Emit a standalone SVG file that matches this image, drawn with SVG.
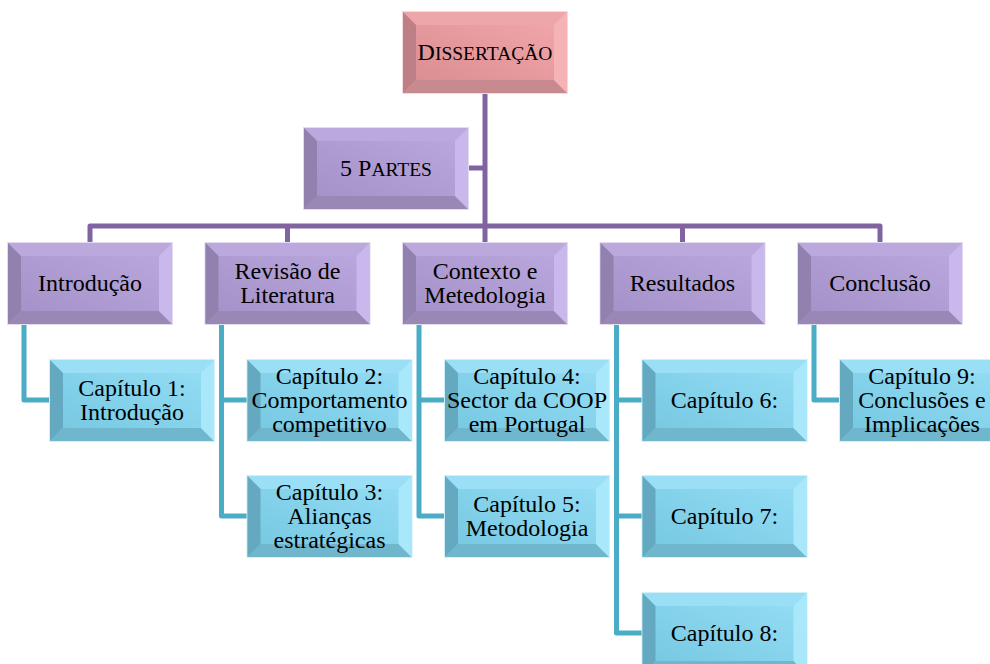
<svg xmlns="http://www.w3.org/2000/svg" xmlns:xlink="http://www.w3.org/1999/xlink" width="990" height="664" viewBox="0 0 990 664">
<style>
.t{font-family:"Liberation Serif","Times New Roman",serif;font-size:24px;fill:#000;text-anchor:middle}
.sc{font-size:19.5px}
.pl{fill:none;stroke:#8064A2;stroke-width:5;stroke-linejoin:round;stroke-linecap:butt}
.cl{fill:none;stroke:#4BACC6;stroke-width:5;stroke-linejoin:round;stroke-linecap:butt}
</style>
<defs>
<linearGradient id="gp" x1="0" y1="1" x2="1" y2="0"><stop offset="0" stop-color="#D98A8F"/><stop offset="1" stop-color="#F2A9AC"/></linearGradient>
<linearGradient id="gv" x1="0" y1="1" x2="1" y2="0"><stop offset="0" stop-color="#A28FC6"/><stop offset="1" stop-color="#BCA9E0"/></linearGradient>
<linearGradient id="gc" x1="0" y1="1" x2="1" y2="0"><stop offset="0" stop-color="#74C6E0"/><stop offset="1" stop-color="#96DFF6"/></linearGradient>
<g id="bp">
<rect x="-1" y="-1" width="166" height="83" fill="#F6D9DA"/>
<rect x="0" y="0" width="164" height="81" fill="url(#gp)"/>
<polygon points="0,0 164,0 151,13 13,13" fill="#EDA6A9"/>
<polygon points="0,0 13,13 13,68 0,81" fill="#BE8086"/>
<polygon points="0,81 13,68 151,68 164,81" fill="#C68A8F"/>
<polygon points="164,0 151,13 151,68 164,81" fill="#F5B3B6"/>
</g>
<g id="bv">
<rect x="-1" y="-1" width="166" height="83" fill="#E3DCEF"/>
<rect x="0" y="0" width="164" height="81" fill="url(#gv)"/>
<polygon points="0,0 164,0 151,13 13,13" fill="#BBA9DE"/>
<polygon points="0,0 13,13 13,68 0,81" fill="#9181AE"/>
<polygon points="0,81 13,68 151,68 164,81" fill="#9987B6"/>
<polygon points="164,0 151,13 151,68 164,81" fill="#C9B8EC"/>
</g>
<g id="bc">
<rect x="-1" y="-1" width="166" height="83" fill="#D3EFF8"/>
<rect x="0" y="0" width="164" height="81" fill="url(#gc)"/>
<polygon points="0,0 164,0 151,13 13,13" fill="#9ADFF5"/>
<polygon points="0,0 13,13 13,68 0,81" fill="#65A9C0"/>
<polygon points="0,81 13,68 151,68 164,81" fill="#70B6CC"/>
<polygon points="164,0 151,13 151,68 164,81" fill="#A9E8FB"/>
</g>
</defs>
<rect width="990" height="664" fill="#fff"/>
<g id="connectors">
<path class="pl" d="M485,93 V226"/>
<path class="pl" d="M468,168 H485"/>
<path class="pl" d="M90,243 V226 H880 V243"/>
<path class="pl" d="M287.5,226 V243 M485,226 V243 M682.5,226 V243"/>
<path class="cl" d="M24,324 V400 H50"/>
<path class="cl" d="M221.5,324 V516 H247.5 M221.5,400 H247.5"/>
<path class="cl" d="M419,324 V516 H445 M419,400 H445"/>
<path class="cl" d="M616.5,324 V633 H642.5 M616.5,400 H642.5 M616.5,516 H642.5"/>
<path class="cl" d="M814,324 V400 H840"/>
</g>
<g id="n-dissertacao"><use xlink:href="#bp" x="403" y="12"/><text class="t" x="485" y="60">D<tspan class="sc">ISSERTAÇÃO</tspan></text></g>
<g id="n-partes"><use xlink:href="#bv" x="304" y="128"/><text class="t" x="386" y="176">5 P<tspan class="sc">ARTES</tspan></text></g>
<g id="n-intro"><use xlink:href="#bv" x="8" y="243"/><text class="t" x="90" y="291">Introdução</text></g>
<g id="n-revisao"><use xlink:href="#bv" x="205.5" y="243"/><text class="t" x="287.5" y="279">Revisão de</text><text class="t" x="287.5" y="303">Literatura</text></g>
<g id="n-contexto"><use xlink:href="#bv" x="403" y="243"/><text class="t" x="485" y="279">Contexto e</text><text class="t" x="485" y="303">Metedologia</text></g>
<g id="n-resultados"><use xlink:href="#bv" x="600.5" y="243"/><text class="t" x="682.5" y="291">Resultados</text></g>
<g id="n-conclusao"><use xlink:href="#bv" x="798" y="243"/><text class="t" x="880" y="291">Conclusão</text></g>
<g id="n-cap1"><use xlink:href="#bc" x="50" y="360"/><text class="t" x="132" y="396">Capítulo 1:</text><text class="t" x="132" y="420">Introdução</text></g>
<g id="n-cap2"><use xlink:href="#bc" x="247.5" y="360"/><text class="t" x="329.5" y="384">Capítulo 2:</text><text class="t" x="329.5" y="408">Comportamento</text><text class="t" x="329.5" y="432">competitivo</text></g>
<g id="n-cap3"><use xlink:href="#bc" x="247.5" y="476"/><text class="t" x="329.5" y="500">Capítulo 3:</text><text class="t" x="329.5" y="524">Alianças</text><text class="t" x="329.5" y="548">estratégicas</text></g>
<g id="n-cap4"><use xlink:href="#bc" x="445" y="360"/><text class="t" x="527" y="384">Capítulo 4:</text><text class="t" x="527" y="408">Sector da COOP</text><text class="t" x="527" y="432">em Portugal</text></g>
<g id="n-cap5"><use xlink:href="#bc" x="445" y="476"/><text class="t" x="527" y="512">Capítulo 5:</text><text class="t" x="527" y="536">Metodologia</text></g>
<g id="n-cap6"><use xlink:href="#bc" x="642.5" y="360"/><text class="t" x="724.5" y="408">Capítulo 6:</text></g>
<g id="n-cap7"><use xlink:href="#bc" x="642.5" y="476"/><text class="t" x="724.5" y="524">Capítulo 7:</text></g>
<g id="n-cap8"><use xlink:href="#bc" x="642.5" y="593"/><text class="t" x="724.5" y="641">Capítulo 8:</text></g>
<g id="n-cap9"><use xlink:href="#bc" x="840" y="360"/><text class="t" x="922" y="384">Capítulo 9:</text><text class="t" x="922" y="408">Conclusões e</text><text class="t" x="922" y="432">Implicações</text></g>
</svg>
